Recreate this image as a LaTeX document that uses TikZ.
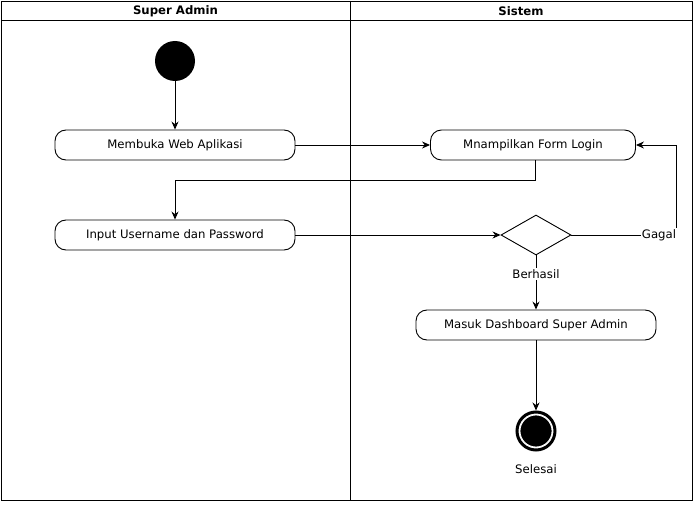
\documentclass[tikz,border=0pt]{standalone}
\usepackage{fontspec}
\setmainfont{DejaVu Sans}
\usetikzlibrary{shapes.geometric,arrows.meta}

\begin{document}
\begin{tikzpicture}[x=1pt,y=-1pt,line width=0.9pt,
    >={Stealth[length=8pt,width=7pt]},
    act/.style={draw,rounded corners=11pt,minimum width=240pt,minimum height=30pt,
      font=\fontsize{11.7}{13}\selectfont},
    lbl/.style={fill=white,inner sep=1pt,font=\fontsize{11.7}{13}\selectfont},
    flow/.style={->}]
  \useasboundingbox (0,0) rectangle (697,508);
  % lanes
  \draw (1,1) rectangle (692,500);
  \draw (1,20) -- (692,20);
  \draw (350,1) -- (350,500);
  \node[font=\fontsize{11.7}{13}\selectfont\bfseries] (laneA) at (175.5,11) {Super Admin};
  \node[font=\fontsize{11.7}{13}\selectfont\bfseries] (laneB) at (521,11) {Sistem};

  \node[circle,fill=black,minimum size=40pt,inner sep=0pt] (start) at (175,61) {};
  \node[act] (buka) at (175,145) {Membuka Web Aplikasi};
  \node[act,minimum width=205pt] (form) at (533,145) {Mnampilkan Form Login};
  \node[act] (input) at (175,235) {Input Username dan Password};
  \node[diamond,draw,minimum width=70pt,minimum height=40pt,inner sep=0pt,aspect=1.75] (cek) at (536,235) {};
  \node[act] (masuk) at (536,325) {Masuk Dashboard Super Admin};
  \node[circle,draw,line width=3pt,minimum size=38pt,inner sep=0pt] (stop) at (536,431) {};
  \node[circle,fill=black,draw=white,line width=0.8pt,minimum size=32pt,inner sep=0pt] (stopin) at (stop) {};
  \node[lbl] (selesai) at (536,469) {Selesai};

  \draw[flow] (start) -- (buka);
  \draw[flow] (buka) -- (form);
  \draw[flow] (form.south -| 535,0) |- (175,180) -- (input);
  \draw[flow] (input) -- (cek);
  \draw[flow] (cek.east) -- (676,235) |- (form.east);
  \node[lbl] (gagal) at (659,235) {Gagal};
  \draw[flow] (cek) -- (masuk);
  \node[lbl] (berhasil) at (536,274) {Berhasil};
  \draw[flow] (masuk) -- (stop);
\end{tikzpicture}
\end{document}
